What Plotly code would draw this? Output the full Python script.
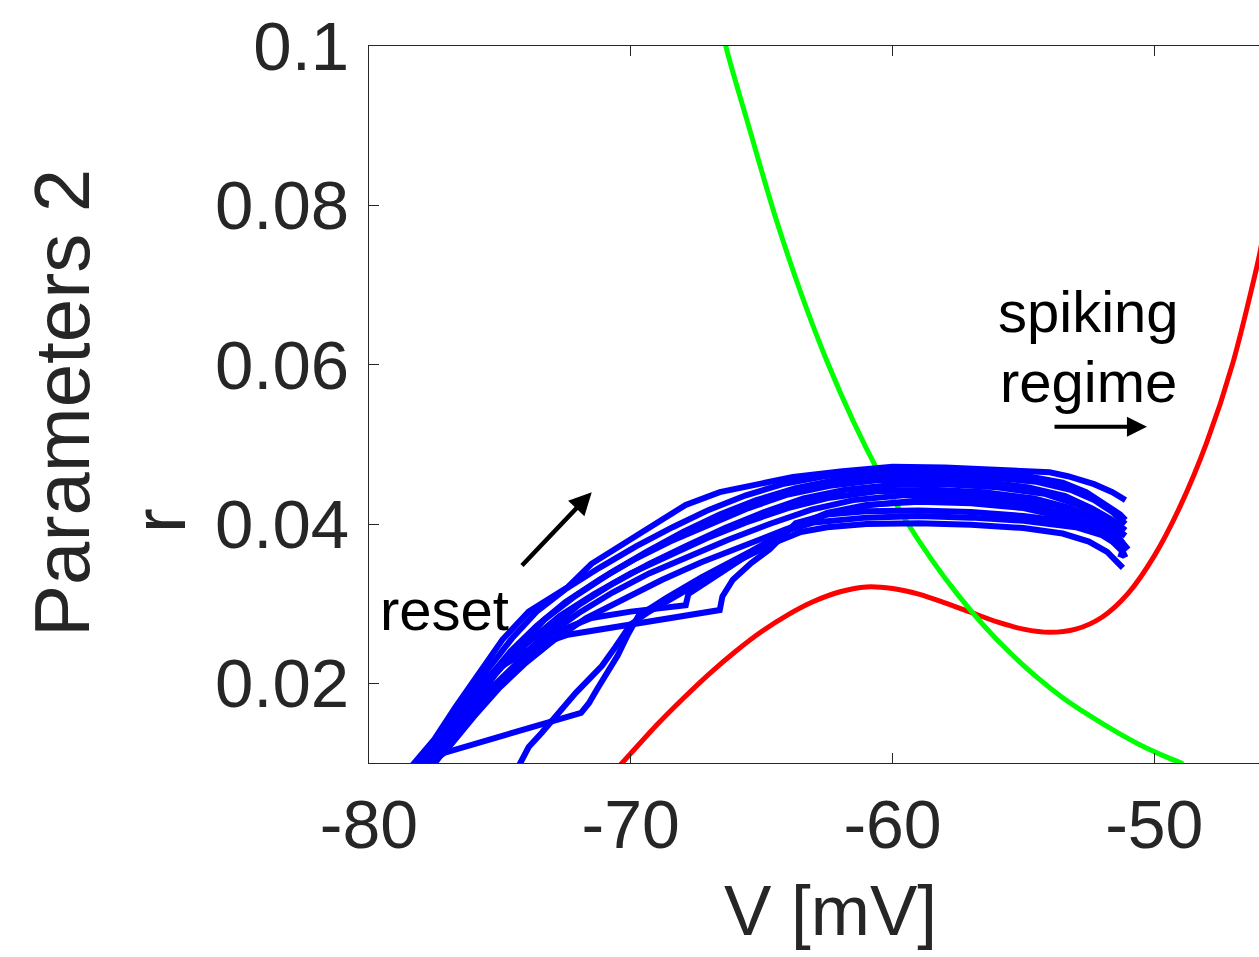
import plotly.graph_objects as go

# ---------------- data ----------------
x_ticks = [-80, -70, -60, -50]
y_ticks = [0.02, 0.04, 0.06, 0.08, 0.1]
y_tick_labels = ["0.02", "0.04", "0.06", "0.08", "0.1"]

green_v = [-66.6, -66.37, -65.5, -64.5, -63.5, -62.5, -61.5, -60.5, -59.5, -58.5, -57.5,
           -56.5, -55.5, -54.5, -53.5, -52.5, -51.5, -50.5, -49.5, -48.9]
green_r = [0.1042, 0.1000, 0.0900, 0.0788, 0.0690, 0.0604, 0.0529, 0.0463, 0.0405, 0.0355, 0.0311,
           0.0272, 0.0238, 0.0208, 0.0182, 0.0160, 0.0140, 0.0122, 0.0107, 0.0099]

red_v = [-70.5, -70.0, -69.0, -68.0, -67.0, -66.0, -65.0, -64.0, -63.0, -62.0, -61.0, -60.0,
         -59.0, -58.0, -57.0, -56.0, -55.0, -54.0, -53.0, -52.0, -51.0, -50.0, -49.0, -48.0,
         -47.0, -46.0, -45.8]
red_r = [0.0094, 0.0112, 0.0148, 0.0181, 0.0212, 0.0240, 0.0265, 0.0286, 0.0303, 0.0315, 0.0321, 0.0319,
         0.0312, 0.0301, 0.0289, 0.0277, 0.0268, 0.0264, 0.0268, 0.0283, 0.0313, 0.0360, 0.0423, 0.0502,
         0.0602, 0.0735, 0.0770]

traj1_v = [-78.4, -77.5, -76.7, -75.8, -74.9, -73.9, -72.4, -71.5, -70.2, -68.9, -67.9, -66.6,
           -65.2, -63.8, -62.0, -60.0, -58.0, -56.0, -54.0, -53.3, -52.3, -51.6, -51.1]
traj1_r = [0.0095, 0.0130, 0.0170, 0.0213, 0.0255, 0.0290, 0.0321, 0.0350, 0.0377, 0.0402, 0.0424, 0.0440,
           0.0450, 0.0459, 0.0466, 0.0472, 0.0471, 0.0468, 0.0465, 0.0460, 0.0450, 0.0440, 0.0430]

traj2_v = [-78.0, -77.2, -76.3, -75.4, -74.5, -73.6, -72.5, -71.2, -69.8, -68.4, -67.0, -65.6,
           -64.2, -62.6, -61.0, -59.0, -57.0, -55.0, -53.5, -52.6, -51.9, -51.3, -51.1]
traj2_r = [0.0095, 0.0135, 0.0180, 0.0220, 0.0258, 0.0290, 0.0318, 0.0345, 0.0372, 0.0396, 0.0418, 0.0436,
           0.0450, 0.0460, 0.0466, 0.0468, 0.0466, 0.0461, 0.0452, 0.0440, 0.0425, 0.0412, 0.0405]

traj3_v = [-77.8, -77.0, -76.1, -75.2, -74.3, -73.3, -72.1, -70.8, -69.4, -68.0, -66.6, -65.2,
           -63.7, -62.2, -60.5, -58.5, -56.5, -54.5, -53.2, -52.3, -51.6, -51.1]
traj3_r = [0.0095, 0.0130, 0.0172, 0.0210, 0.0245, 0.0280, 0.0310, 0.0338, 0.0365, 0.0390, 0.0412, 0.0430,
           0.0445, 0.0455, 0.0461, 0.0462, 0.0459, 0.0453, 0.0443, 0.0430, 0.0415, 0.0400]

traj4_v = [-78.1, -77.3, -76.5, -75.5, -74.6, -73.6, -72.5, -71.2, -69.9, -68.5, -67.0, -65.5,
           -64.0, -62.4, -60.6, -58.5, -56.5, -54.8, -53.4, -52.4, -51.6, -51.1]
traj4_r = [0.0095, 0.0128, 0.0165, 0.0205, 0.0240, 0.0272, 0.0302, 0.0330, 0.0355, 0.0378, 0.0400, 0.0420,
           0.0437, 0.0448, 0.0455, 0.0456, 0.0453, 0.0446, 0.0435, 0.0420, 0.0405, 0.0392]

traj5_v = [-77.6, -76.9, -76.0, -75.0, -74.1, -73.1, -72.0, -70.7, -69.3, -67.9, -66.4, -64.9,
           -63.4, -61.8, -60.0, -58.0, -56.0, -54.2, -53.0, -52.1, -51.5, -51.1]
traj5_r = [0.0095, 0.0125, 0.0160, 0.0200, 0.0235, 0.0268, 0.0298, 0.0325, 0.0350, 0.0372, 0.0395, 0.0415,
           0.0432, 0.0443, 0.0449, 0.0450, 0.0446, 0.0438, 0.0425, 0.0410, 0.0396, 0.0385]

traj6_v = [-78.3, -77.6, -76.7, -75.8, -74.8, -73.8, -72.7, -71.4, -70.0, -68.6, -67.1, -65.6,
           -64.0, -62.4, -60.6, -58.5, -56.5, -54.6, -53.2, -52.2, -51.5, -51.2]
traj6_r = [0.0095, 0.0120, 0.0155, 0.0190, 0.0225, 0.0255, 0.0285, 0.0312, 0.0338, 0.0360, 0.0382, 0.0402,
           0.0420, 0.0433, 0.0441, 0.0443, 0.0440, 0.0432, 0.0420, 0.0405, 0.0390, 0.0376]

traj7_v = [-77.9, -77.1, -76.2, -75.2, -74.2, -73.2, -72.0, -70.7, -69.3, -67.8, -66.3, -64.7,
           -63.1, -61.5, -59.6, -57.5, -55.5, -53.8, -52.6, -51.8, -51.3, -51.1]
traj7_r = [0.0095, 0.0125, 0.0160, 0.0198, 0.0230, 0.0260, 0.0288, 0.0314, 0.0338, 0.0360, 0.0380, 0.0400,
           0.0418, 0.0430, 0.0436, 0.0436, 0.0432, 0.0423, 0.0410, 0.0395, 0.0380, 0.0368]

traj8_v = [-77.7, -76.9, -76.0, -75.0, -74.0, -72.9, -71.7, -70.3, -68.8, -67.3, -65.7, -64.1,
           -62.5, -60.8, -58.8, -56.8, -54.8, -53.3, -52.3, -51.6, -51.2, -51.3]
traj8_r = [0.0095, 0.0122, 0.0158, 0.0195, 0.0226, 0.0255, 0.0282, 0.0306, 0.0330, 0.0352, 0.0373, 0.0393,
           0.0412, 0.0424, 0.0430, 0.0429, 0.0423, 0.0412, 0.0398, 0.0383, 0.0368, 0.0358]

traj9_v = [-78.0, -77.2, -76.3, -75.3, -74.2, -73.0, -71.5, -70.0, -68.5, -67.9, -67.8, -67.3,
           -66.3, -65.2, -63.8, -62.5, -61.0, -59.0, -57.0, -55.0, -53.4, -52.3, -51.6, -51.2]
traj9_r = [0.0095, 0.0120, 0.0155, 0.0190, 0.0228, 0.0262, 0.0282, 0.0290, 0.0295, 0.0298, 0.0312, 0.0323,
           0.0346, 0.0368, 0.0396, 0.0414, 0.0424, 0.0428, 0.0426, 0.0420, 0.0408, 0.0393, 0.0378, 0.0365]

traj10_v = [-78.2, -77.5, -76.8, -76.0, -75.0, -74.0, -73.2, -72.4, -66.6, -66.5, -66.1, -65.4,
            -64.7, -63.7, -62.5, -61.0, -59.0, -57.0, -55.0, -53.0, -52.0, -51.2, -51.0]
traj10_r = [0.0095, 0.0120, 0.0155, 0.0190, 0.0220, 0.0240, 0.0252, 0.0261, 0.0292, 0.0309, 0.0330, 0.0351,
            0.0368, 0.0401, 0.0412, 0.0416, 0.0417, 0.0415, 0.0410, 0.0402, 0.0390, 0.0376, 0.0368]

traj11_v = [-77.9, -77.1, -71.9, -71.6, -71.3, -70.9, -70.5, -70.1, -69.7, -68.6, -67.3, -65.4,
            -64.0, -63.0, -61.0, -59.0, -57.0, -55.0, -53.0, -52.0, -51.3, -51.1]
traj11_r = [0.0095, 0.0113, 0.0163, 0.0175, 0.0192, 0.0212, 0.0235, 0.0262, 0.0285, 0.0308, 0.0333, 0.0366,
            0.0392, 0.0402, 0.0408, 0.0410, 0.0408, 0.0404, 0.0396, 0.0386, 0.0372, 0.0358]

traj12_v = [-74.3, -73.9, -73.4, -73.1, -72.6, -72.1, -71.6, -71.1, -70.6, -70.0, -69.3, -68.6,
            -67.3, -66.4, -65.4, -64.4, -63.5, -62.5, -61.0, -59.0, -57.0, -55.0, -53.5, -52.5, -51.8, -51.2]
traj12_r = [0.0095, 0.0120, 0.0138, 0.0150, 0.0170, 0.0188, 0.0205, 0.0222, 0.0245, 0.0274, 0.0290, 0.0303,
            0.0328, 0.0346, 0.0362, 0.0378, 0.0390, 0.0396, 0.0400, 0.0401, 0.0399, 0.0395, 0.0388, 0.0378, 0.0365, 0.0345]

trajectories = [
    (traj1_v, traj1_r), (traj2_v, traj2_r), (traj3_v, traj3_r), (traj4_v, traj4_r),
    (traj5_v, traj5_r), (traj6_v, traj6_r), (traj7_v, traj7_r), (traj8_v, traj8_r),
    (traj9_v, traj9_r), (traj10_v, traj10_r), (traj11_v, traj11_r), (traj12_v, traj12_r),
]

# ---------------- figure ----------------
W, H = 1259, 957
L, R, T, B = 369, 0, 46, 194
PW, PH = W - L - R, H - T - B

def px(xp):
    return (xp - L) / PW

def py(yp):
    return (H - B - yp) / PH

fig = go.Figure()

fig.add_trace(go.Scatter(x=red_v, y=red_r, mode="lines", line=dict(color="#FF0000", width=5, shape="spline", smoothing=0.8),
                         showlegend=False, hoverinfo="skip"))
fig.add_trace(go.Scatter(x=green_v, y=green_r, mode="lines", line=dict(color="#00FF00", width=5, shape="spline", smoothing=0.8),
                         showlegend=False, hoverinfo="skip"))
for tv, tr in trajectories:
    fig.add_trace(go.Scatter(x=tv, y=tr, mode="lines", line=dict(color="#0000FF", width=6),
                             showlegend=False, hoverinfo="skip"))

font_family = "Liberation Sans, Arial, Helvetica, sans-serif"
axis_color = "#262626"

fig.update_xaxes(range=[-80, -46], tickvals=x_ticks, ticktext=[str(v) for v in x_ticks],
                 showgrid=False, zeroline=False, showline=True, linecolor=axis_color, linewidth=1,
                 mirror="ticks", ticks="inside", ticklen=10, tickcolor=axis_color, tickwidth=1,
                 tickfont=dict(family=font_family, size=68, color=axis_color), ticklabelstandoff=2)
fig.update_yaxes(range=[0.01, 0.1], tickvals=y_ticks, ticktext=y_tick_labels,
                 showgrid=False, zeroline=False, showline=True, linecolor=axis_color, linewidth=1,
                 mirror=False, ticks="inside", ticklen=10, tickcolor=axis_color, tickwidth=1,
                 tickfont=dict(family=font_family, size=69, color=axis_color), ticklabelstandoff=5)

annotations = [
    dict(text="V [mV]", x=px(830), y=py(910), xref="paper", yref="paper", showarrow=False,
         xanchor="center", yanchor="middle", font=dict(family=font_family, size=71, color=axis_color)),
    dict(text="Parameters 2", x=px(62), y=py(403), xref="paper", yref="paper", showarrow=False,
         textangle=-90, xanchor="center", yanchor="middle",
         font=dict(family=font_family, size=78, color=axis_color)),
    dict(text="r", x=px(159), y=py(521), xref="paper", yref="paper", showarrow=False,
         textangle=-90, xanchor="center", yanchor="middle",
         font=dict(family=font_family, size=74, color=axis_color)),
    dict(text="reset", x=px(378), y=py(609), xref="paper", yref="paper", showarrow=False,
         xanchor="left", yanchor="middle", font=dict(family=font_family, size=58, color="#000000")),
    dict(text="spiking", x=px(996), y=py(311), xref="paper", yref="paper", showarrow=False,
         xanchor="left", yanchor="middle", font=dict(family=font_family, size=58, color="#000000")),
    dict(text="regime", x=px(998), y=py(381), xref="paper", yref="paper", showarrow=False,
         xanchor="left", yanchor="middle", font=dict(family=font_family, size=58, color="#000000")),
    # reset arrow
    dict(x=-71.49, y=0.0440, ax=-74.21, ay=0.0346, xref="x", yref="y", axref="x", ayref="y",
         text="", showarrow=True, arrowhead=2, arrowsize=1.0, arrowwidth=4.5, arrowcolor="#000000"),
    # spiking regime arrow
    dict(x=-50.28, y=0.0522, ax=-53.87, ay=0.0522, xref="x", yref="y", axref="x", ayref="y",
         text="", showarrow=True, arrowhead=2, arrowsize=1.0, arrowwidth=4.0, arrowcolor="#000000"),
]

fig.update_layout(width=W, height=H, margin=dict(l=L, r=R, t=T, b=B, pad=0),
                  paper_bgcolor="white", plot_bgcolor="white", annotations=annotations,
                  showlegend=False)

fig.write_html("out.html")
